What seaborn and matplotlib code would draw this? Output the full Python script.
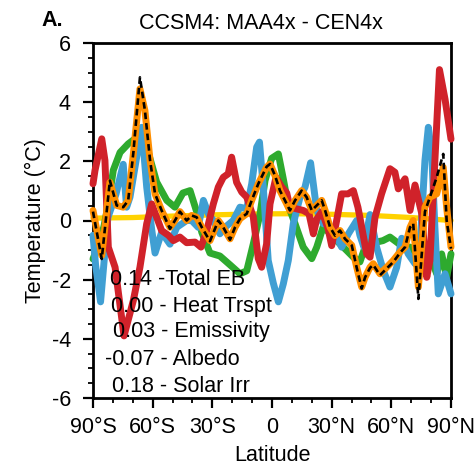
import matplotlib
matplotlib.use("Agg")
import matplotlib.pyplot as plt
import seaborn as sns
import numpy as np
from matplotlib.ticker import MultipleLocator, FixedLocator

# ---------------- data ----------------
lat_eb = [-90, -85.6, -81.5, -78.1, -74.8, -72.3, -69.7, -66.4, -63.9, -61.3, -58.8, -55.5,
          -51.3, -48.8, -46.3, -42.9, -40.4, -37.9, -35.3, -31.2, -27.0, -24.5, -21.1, -18.6,
          -16.1, -12.7, -10.2, -6.9, -2.7, -1.0, 1.5, 4.0, 6.5, 9.0, 11.6, 14.9, 17.4, 20.0,
          22.5, 25.0, 26.7, 29.2, 31.7, 34.2, 36.7, 40.1, 42.6, 45.1, 46.8, 49.3, 50.9, 54.3,
          57.7, 61.0, 64.3, 66.9, 69.4, 71.0, 73.6, 76.9, 79.4, 82.8, 86.1, 87.8, 90]
total_eb = [0.34, -1.18, 1.29, 0.51, 0.45, 0.68, 2.26, 4.45, 3.72, 2.03, 0.9, 0.34,
            -0.23, 0.0, 0.3, 0.0, 0.17, 0.11, -0.23, -0.68, 0.0, -0.23, -0.62, -0.23,
            0.06, 0.23, 0.68, 1.24, 1.8, 1.91, 1.52, 1.01, 0.68, 0.34, 0.68, 1.01, 0.79, 0.34,
            0.51, 0.68, 0.34, -0.23, -0.51, -0.34, -0.62, -0.84, -1.58, -2.25, -1.92, -1.58, -1.46, -1.8,
            -1.58, -1.35, -1.07, -0.9, -0.23, 0.0, -2.25, 0.45, 0.79, 0.9, 1.8, 0.45, -0.9]
actual = [0.3, -1.3, 1.35, 0.51, 0.45, 0.68, 2.3, 4.84, 3.72, 2.03, 0.9, 0.34,
          -0.28, 0.0, 0.3, 0.0, 0.17, 0.11, -0.23, -0.7, 0.0, -0.23, -0.65, -0.23,
          0.06, 0.23, 0.68, 1.24, 1.82, 1.91, 1.52, 1.01, 0.68, 0.34, 0.68, 1.01, 0.79, 0.34,
          0.51, 0.68, 0.34, -0.23, -0.51, -0.34, -0.62, -0.84, -1.6, -2.3, -1.92, -1.6, -1.5, -1.85,
          -1.62, -1.4, -1.1, -0.9, -0.23, -0.1, -2.65, 0.3, 0.79, 1.46, 2.25, 0.0, -0.95]

lat_alb = [-90, -89.0, -85.6, -84.0, -82.3, -78.9, -74.4, -69.7, -66.4, -63.0, -60.5, -58.0,
           -55.5, -52.1, -49.6, -46.3, -42.9, -38.7, -35.7, -32.8, -29.5, -27.0, -24.5, -22.0,
           -20.3, -17.8, -15.2, -12.7, -9.4, -6.9, -5.2, -2.7, -1.0, 2.0, 4.9, 7.4, 9.0, 12.6,
           15.7, 18.6, 20.8, 22.5, 25.1, 28.3, 30.0, 32.5, 35.0, 38.2, 40.9, 43.2, 44.2, 47.6,
           49.3, 51.8, 55.1, 59.3, 61.8, 63.5, 66.9, 69.4, 71.9, 75.3, 77.8, 79.4, 81.9, 84.2,
           87.0, 90]
albedo = [1.24, 1.69, 2.76, 2.03, -0.9, -1.58, -3.9, -2.7, -1.58, -0.11, 0.56, 0.11,
          -0.34, -0.5, -0.68, -0.56, -0.75, -0.73, -0.9, -0.34, 0.56, 1.13, 1.46, 1.58,
          2.14, 1.29, 0.96, 0.79, 0.11, -1.29, -1.58, -0.79, 0.56, 1.46, 1.13, 0.93, 0.45, 0.39,
          0.34, 0.23, -0.45, 0.05, 0.3, -0.3, -0.85, 0.0, 0.9, 0.9, 1.01, 0.45, 0.1, -1.13,
          -1.24, 0.11, 0.9, 1.75, 1.63, 1.07, 1.41, 0.34, 1.2, 0.23, -1.92, -1.35, 2.03, 5.1,
          4.1, 2.75]

lat_ht = [-90, -88.7, -86.2, -82.5, -78.4, -74.8, -73.1, -71.4, -68.4, -65.5, -63.0, -60.5,
          -58.8, -55.5, -51.3, -47.9, -42.9, -40.4, -37.1, -34.5, -32.0, -29.5, -26.2, -23.6,
          -19.5, -16.1, -12.7, -10.2, -7.7, -6.3, -4.4, -1.9, 0.6, 3.2, 5.7, 8.2, 10.7, 14.1,
          16.6, 19.4, 22.5, 25.8, 28.3, 31.7, 35.0, 38.4, 42.6, 44.2, 46.2, 49.3, 52.6, 56.0,
          59.3, 62.7, 65.2, 68.5, 71.9, 74.4, 76.9, 78.6, 80.3, 81.9, 83.6, 87.0, 90]
heat_trspt = [-0.5, -1.5, -2.75, 0.1, 0.9, 1.9, 0.45, 0.79, 2.0, 3.15, 1.13, -0.3,
              -1.1, -0.4, -0.8, -0.23, 0.0, 0.0, -0.23, 0.68, 0.23, 0.0, -0.45, -0.23,
              0.0, 0.45, 0.4, 1.24, 2.48, 2.65, 1.13, -1.35, -2.1, -2.75, -2.14, -1.35, -0.11, 0.79,
              1.13, 1.95, 0.34, -0.11, -0.11, -0.45, -0.9, -0.45, 0.0, -0.5, -0.9, 0.2, -0.9, -1.7,
              -2.25, -1.58, -0.6, -1.13, -1.46, -0.9, 2.03, 3.15, 2.25, -0.23, -2.48, -1.8, -2.48]

lat_em = [-90, -87.0, -84.5, -82.3, -79.8, -76.4, -72.3, -68.0, -65.5, -62.2, -58.0, -52.9,
          -48.8, -44.8, -41.2, -37.9, -35.3, -31.2, -26.2, -21.1, -16.1, -12.7, -9.4, -6.0,
          -3.5, -0.2, 3.2, 5.7, 8.2, 11.6, 15.7, 20.0, 22.5, 25.8, 29.2, 32.5, 37.5, 40.9,
          44.2, 46.8, 49.3, 52.6, 55.8, 59.3, 62.7, 66.0, 69.4, 71.9, 75.3, 77.8, 80.3, 82.8,
          85.3, 87.8, 90]
emissivity = [-1.3, -0.8, -0.2, 0.56, 1.7, 2.3, 2.59, 2.81, 3.07, 2.3, 1.3, 0.68,
              0.45, 0.93, 1.01, 0.3, -0.4, -1.1, -1.2, -1.5, -1.8, -1.7, -0.79, 0.23,
              1.35, 2.1, 2.25, 1.4, 0.5, -0.11, -0.9, -1.29, -0.9, -0.2, -0.45, -0.68, -1.01, -1.24,
              -1.4, -0.9, -0.45, -0.73, -0.68, -0.56, -0.73, -0.9, -0.9, -1.24, -1.58, -1.5, -1.35, -1.8,
              -1.13, -1.92, -1.13]

lat_si = [-90, -70, -50, -30, -10, 10, 30, 50, 70, 90]
solar_irr = [0.08, 0.1, 0.15, 0.19, 0.22, 0.23, 0.21, 0.17, 0.1, 0.0]

means = ["0.14", "0.00", "0.03", "-0.07", "0.18"]
names = ["-Total EB", "- Heat Trspt", "- Emissivity", "- Albedo", "- Solar Irr"]

xticks = [-90, -60, -30, 0, 30, 60, 90]
xticklabels = ["90°S", "60°S", "30°S", "0", "30°N", "60°N", "90°N"]
yticks = [-6, -4, -2, 0, 2, 4, 6]

# ---------------- style ----------------
sns.set_theme(style="ticks")
plt.rcParams["font.family"] = ["Liberation Sans", "DejaVu Sans"]
plt.rcParams["axes.unicode_minus"] = False
for k in ["text.color", "axes.labelcolor", "xtick.color", "ytick.color", "axes.edgecolor"]:
    plt.rcParams[k] = "black"

fig = plt.figure(figsize=(4.75, 4.71), dpi=100)
ax = fig.add_axes([93 / 475, 73 / 471, 358 / 475, 355 / 471])

C_YEL = "#ffd200"
C_GRN = "#2eaa2e"
C_BLU = "#409fd3"
C_RED = "#d0222a"
C_ORG = "#ff8f00"

lw = 5.0
sns.lineplot(x=lat_si, y=solar_irr, color=C_YEL, lw=3.8, ax=ax, clip_on=False, zorder=2)
sns.lineplot(x=lat_em, y=emissivity, color=C_GRN, lw=lw, ax=ax, clip_on=False, zorder=3)
sns.lineplot(x=lat_ht, y=heat_trspt, color=C_BLU, lw=lw, ax=ax, clip_on=False, zorder=4)
sns.lineplot(x=lat_alb, y=albedo, color=C_RED, lw=lw, ax=ax, clip_on=False, zorder=5)
sns.lineplot(x=lat_eb, y=total_eb, color=C_ORG, lw=lw, ax=ax, clip_on=False, zorder=6)
sns.lineplot(x=lat_eb, y=actual, color="black", lw=1.9, ax=ax, clip_on=False, zorder=7,
             dashes=False, linestyle=(0, (2.5, 1.5)))

ax.set_xlim(-90, 90)
ax.set_ylim(-6, 6)
ax.xaxis.set_major_locator(FixedLocator(xticks))
ax.set_xticklabels(xticklabels)
ax.xaxis.set_minor_locator(MultipleLocator(10))
ax.yaxis.set_major_locator(FixedLocator(yticks))
ax.yaxis.set_minor_locator(MultipleLocator(0.5))

for s in ax.spines.values():
    s.set_linewidth(2.0)
    s.set_color("black")
    s.set_visible(True)

ax.tick_params(which="major", length=7, width=1.6, color="black", labelsize=15.5, pad=7,
               labelcolor="black")
ax.tick_params(which="minor", length=3.5, width=1.3, color="black")
ax.tick_params(axis="y", which="major", pad=9)

ax.set_xlabel("Latitude", fontsize=15.5, labelpad=5, color="black")
ax.set_ylabel("Temperature (°C)", fontsize=15.5, labelpad=4, color="black")

ax.set_title("CCSM4: MAA4x - CEN4x", fontsize=15.5, pad=10, x=0.47, color="black")
fig.text(41 / 475, 1 - 26 / 471, "A.", fontsize=15.5, fontweight="bold", ha="left",
         va="baseline", color="black")

xs = [0.0475, 0.049, 0.055, 0.0335, 0.052]
ys = [0.318, 0.243, 0.172, 0.093, 0.017]
for m, n, xx, yy in zip(means, names, xs, ys):
    ax.text(xx, yy, f"{m} {n}", transform=ax.transAxes, fontsize=15.5,
            ha="left", va="baseline", zorder=10, color="black")

fig.savefig("out.png", dpi=100)
